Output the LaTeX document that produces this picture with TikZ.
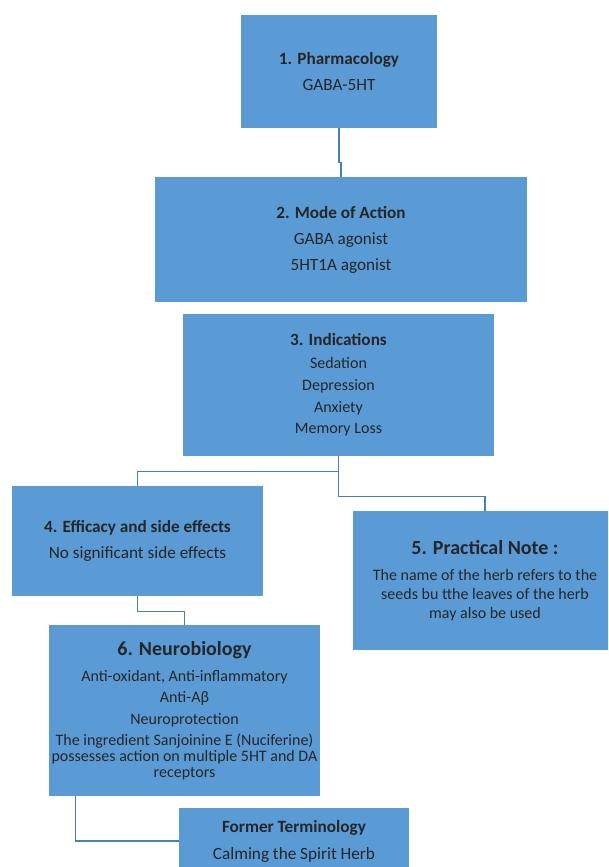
\documentclass[tikz,border=0pt]{standalone}
\usepackage{fontspec}
\setmainfont{Carlito}
\usetikzlibrary{calc}
\definecolor{boxblue}{RGB}{91,155,213}
\definecolor{linkblue}{RGB}{74,126,187}
\definecolor{txt}{RGB}{38,38,38}
\tikzset{
  box/.style={fill=boxblue, draw=none, inner sep=0pt, align=center, text=txt,
    font=\fontsize{17.2}{16}\selectfont},
  smallbox/.style={box, font=\fontsize{16}{16}\selectfont},
  link/.style={draw=linkblue, line width=1.3pt}
}
\newcommand{\bigtitle}[1]{{\fontsize{20}{20}\selectfont\bfseries #1}}
\newcommand{\midtitle}[1]{{\fontsize{17.2}{17}\selectfont\bfseries #1}}
\begin{document}
\begin{tikzpicture}[x=1pt,y=-1pt]
\useasboundingbox (0,0) rectangle (608,867);
\clip (0,0) rectangle (608,867);
\node[box, minimum width=196pt, minimum height=113pt] (b1) at (339,71.5)
  {\textbf{1. Pharmacology}\\[10pt]GABA-5HT};
\node[box, minimum width=372pt, minimum height=125pt] (b2) at (341,239.5)
  {\textbf{2. Mode of Action}\\[10pt]GABA agonist\\[10pt]5HT1A agonist};
\node[smallbox, minimum width=311pt, minimum height=142pt] (b3) at (338.5,385)
  {\midtitle{3. Indications}\\[7pt]Sedation\\[6pt]Depression\\[6pt]Anxiety\\[5pt]Memory Loss};
\node[box, minimum width=251pt, minimum height=110pt] (b4) at (137.5,541)
  {\textbf{4. Efficacy and side effects}\\[10pt]No significant side effects};
\node[smallbox, minimum width=264pt, minimum height=139pt] (b5) at (485,580.5)
  {\bigtitle{5. Practical Note :}\\[10pt]The name of the herb refers to the\\[3pt]seeds bu tthe leaves of the herb\\[3pt]may also be used};
\node[smallbox, minimum width=271pt, minimum height=171pt] (b6) at (184.5,710.5)
  {\bigtitle{6. Neurobiology}\\[10pt]Anti-oxidant, Anti-inflammatory\\[5pt]Anti-Aβ\\[6pt]Neuroprotection\\[5pt]The ingredient Sanjoinine E (Nuciferine)\\possesses action on multiple 5HT and DA\\receptors};
\node[box, minimum width=230pt, minimum height=66pt] (b7) at (294,841)
  {\textbf{Former Terminology}\\[11pt]Calming the Spirit Herb};
\draw[link] (b1.south) -- ++(0,34) -| (b2.north);
\draw[link] (b3.south) -- ++(0,15) -| (b4.north);
\draw[link] (b3.south) -- ++(0,40) -| (b5.north);
\draw[link] (b4.south) -- ++(0,15) -| (b6.north);
\draw[link] ($(b6.south west)+(27,0)$) |- (b7.west);
\end{tikzpicture}
\end{document}
